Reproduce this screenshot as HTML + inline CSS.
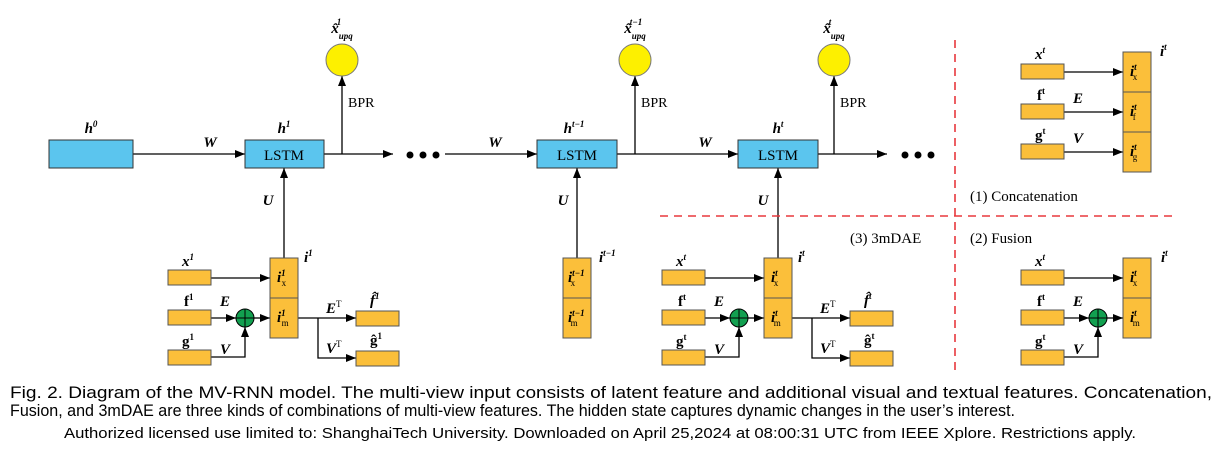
<!DOCTYPE html>
<html><head><meta charset="utf-8"><style>
body{margin:0;background:#fff}
svg{display:block}
text{font-family:"Liberation Serif",serif;fill:#000}
.it{font-style:italic;font-weight:bold}
.b{font-weight:bold}
.cap{font-family:"Liberation Sans",sans-serif;font-size:16.5px}
</style></head><body>
<svg width="1221" height="458" viewBox="0 0 1221 458" xmlns="http://www.w3.org/2000/svg">
<defs>
<marker id="a" markerWidth="10" markerHeight="8" refX="10" refY="4" orient="auto" markerUnits="userSpaceOnUse"><path d="M0,0L10,4L0,8z" fill="#000"/></marker>
</defs>
<g stroke="#000" stroke-width="1.3" fill="none">
<line x1="133" y1="154" x2="245" y2="154" marker-end="url(#a)"/>
<line x1="324" y1="154" x2="393" y2="154" marker-end="url(#a)"/>
<line x1="445" y1="154" x2="537" y2="154" marker-end="url(#a)"/>
<line x1="617" y1="154" x2="738" y2="154" marker-end="url(#a)"/>
<line x1="818" y1="154" x2="887" y2="154" marker-end="url(#a)"/>
<line x1="342" y1="154" x2="342" y2="76" marker-end="url(#a)"/>
<line x1="635" y1="154" x2="635" y2="76" marker-end="url(#a)"/>
<line x1="834" y1="154" x2="834" y2="76" marker-end="url(#a)"/>
<line x1="284" y1="258" x2="284" y2="168" marker-end="url(#a)"/>
<line x1="577" y1="258" x2="577" y2="168" marker-end="url(#a)"/>
<line x1="778" y1="258" x2="778" y2="168" marker-end="url(#a)"/>
</g>
<g fill="#000"><circle cx="410" cy="155" r="3.5"/><circle cx="423" cy="155" r="3.5"/><circle cx="436" cy="155" r="3.5"/>
<circle cx="905" cy="155" r="3.5"/><circle cx="918" cy="155" r="3.5"/><circle cx="931" cy="155" r="3.5"/></g>
<g stroke="#333" stroke-width="1" fill="#5bc5ee">
<rect x="49" y="140" width="84" height="28"/>
<rect x="245" y="140" width="79" height="28"/>
<rect x="537" y="140" width="80" height="28"/>
<rect x="738" y="140" width="80" height="28"/>
</g>
<g font-size="15" text-anchor="middle"><text x="284" y="160">LSTM</text><text x="577" y="160">LSTM</text><text x="778" y="160">LSTM</text></g>
<g stroke="#777" fill="#fdf000"><circle cx="342" cy="60" r="16"/><circle cx="635" cy="60" r="16"/><circle cx="834" cy="60" r="16"/></g>
<g font-size="14"><text x="348" y="107">BPR</text><text x="641" y="107">BPR</text><text x="840" y="107">BPR</text></g>
<g font-size="15" class="it" text-anchor="middle">
<text x="342" y="33">x̂<tspan font-size="9" dy="6">upq</tspan><tspan font-size="9" dy="-14" dx="-16">1</tspan></text>
<text x="635" y="33">x̂<tspan font-size="9" dy="6">upq</tspan><tspan font-size="9" dy="-14" dx="-16">t−1</tspan></text>
<text x="834" y="33">x̂<tspan font-size="9" dy="6">upq</tspan><tspan font-size="9" dy="-14" dx="-16">t</tspan></text>
<text x="91" y="133">h<tspan font-size="9" dy="-6">0</tspan></text>
<text x="284" y="133">h<tspan font-size="9" dy="-6">1</tspan></text>
<text x="574" y="133">h<tspan font-size="9" dy="-6">t−1</tspan></text>
<text x="778" y="133">h<tspan font-size="9" dy="-6">t</tspan></text>
<text x="210" y="147">W</text><text x="495" y="147">W</text><text x="705" y="147">W</text>
<text x="268" y="205">U</text><text x="563" y="205">U</text><text x="763" y="205">U</text>
</g>
<g stroke="#e8383d" stroke-width="1.6" stroke-dasharray="8,6"><line x1="955" y1="40" x2="955" y2="372"/><line x1="660" y1="216" x2="1172" y2="216"/></g>
<g font-size="15"><text x="850" y="243">(3) 3mDAE</text><text x="970" y="243">(2) Fusion</text><text x="970" y="201">(1) Concatenation</text></g>

<g>
<g stroke="#000" stroke-width="1.3" fill="none">
<line x1="211" y1="278" x2="270" y2="278" marker-end="url(#a)"/>
<line x1="211" y1="318" x2="236" y2="318" marker-end="url(#a)"/>
<line x1="254" y1="318" x2="270" y2="318" marker-end="url(#a)"/>
<polyline points="211,357 245,357 245,327" marker-end="url(#a)"/>
<polyline points="298,318 356,318" marker-end="url(#a)"/>
<polyline points="318,318 318,358 356,358" marker-end="url(#a)"/>
</g>
<g stroke="#555" stroke-width="1" fill="#fbbf3a">
<rect x="168" y="270" width="43" height="15"/><rect x="168" y="310" width="43" height="15"/><rect x="168" y="350" width="43" height="15"/>
<rect x="270" y="258" width="28" height="40"/><rect x="270" y="298" width="28" height="40"/>
<rect x="356" y="311" width="43" height="15"/><rect x="356" y="351" width="43" height="15"/>
</g>
<circle cx="245" cy="318" r="9" fill="#12a050" stroke="#000"/>
<path d="M236,318H254M245,309V327" stroke="#000"/>
<g font-size="15" class="it">
<text x="182" y="266">x<tspan font-size="9" dy="-6">1</tspan></text>
<text x="184" y="306" font-style="normal">f<tspan font-size="9" dy="-6">1</tspan></text>
<text x="182" y="346" font-style="normal">g<tspan font-size="9" dy="-6">1</tspan></text>
<text x="220" y="306">E</text><text x="220" y="354">V</text>
<text x="304" y="262">i<tspan font-size="9" dy="-6">1</tspan></text>
<text x="277" y="282">i<tspan font-size="9" dy="-6">1</tspan><tspan font-size="9" font-style="normal" font-weight="normal" dy="10" dx="-4">x</tspan></text>
<text x="277" y="322">i<tspan font-size="9" dy="-6">1</tspan><tspan font-size="9" font-style="normal" font-weight="normal" dy="10" dx="-4">m</tspan></text>
<text x="326" y="313">E<tspan font-size="9" font-weight="normal" font-style="normal" dy="-6">T</tspan></text>
<text x="326" y="353">V<tspan font-size="9" font-weight="normal" font-style="normal" dy="-6">T</tspan></text>
<text x="370" y="305">f̂<tspan font-size="9" dy="-6">1</tspan></text>
<text x="370" y="345" font-style="normal">ĝ<tspan font-size="9" dy="-6">1</tspan></text>
</g>
</g>
<g transform="translate(494,0)">
<g stroke="#000" stroke-width="1.3" fill="none">
<line x1="211" y1="278" x2="270" y2="278" marker-end="url(#a)"/>
<line x1="211" y1="318" x2="236" y2="318" marker-end="url(#a)"/>
<line x1="254" y1="318" x2="270" y2="318" marker-end="url(#a)"/>
<polyline points="211,357 245,357 245,327" marker-end="url(#a)"/>
<polyline points="298,318 356,318" marker-end="url(#a)"/>
<polyline points="318,318 318,358 356,358" marker-end="url(#a)"/>
</g>
<g stroke="#555" stroke-width="1" fill="#fbbf3a">
<rect x="168" y="270" width="43" height="15"/><rect x="168" y="310" width="43" height="15"/><rect x="168" y="350" width="43" height="15"/>
<rect x="270" y="258" width="28" height="40"/><rect x="270" y="298" width="28" height="40"/>
<rect x="356" y="311" width="43" height="15"/><rect x="356" y="351" width="43" height="15"/>
</g>
<circle cx="245" cy="318" r="9" fill="#12a050" stroke="#000"/>
<path d="M236,318H254M245,309V327" stroke="#000"/>
<g font-size="15" class="it">
<text x="182" y="266">x<tspan font-size="9" dy="-6">t</tspan></text>
<text x="184" y="306" font-style="normal">f<tspan font-size="9" dy="-6">t</tspan></text>
<text x="182" y="346" font-style="normal">g<tspan font-size="9" dy="-6">t</tspan></text>
<text x="220" y="306">E</text><text x="220" y="354">V</text>
<text x="304" y="262">i<tspan font-size="9" dy="-6">t</tspan></text>
<text x="277" y="282">i<tspan font-size="9" dy="-6">t</tspan><tspan font-size="9" font-style="normal" font-weight="normal" dy="10" dx="-4">x</tspan></text>
<text x="277" y="322">i<tspan font-size="9" dy="-6">t</tspan><tspan font-size="9" font-style="normal" font-weight="normal" dy="10" dx="-4">m</tspan></text>
<text x="326" y="313">E<tspan font-size="9" font-weight="normal" font-style="normal" dy="-6">T</tspan></text>
<text x="326" y="353">V<tspan font-size="9" font-weight="normal" font-style="normal" dy="-6">T</tspan></text>
<text x="370" y="305">f̂<tspan font-size="9" dy="-6">t</tspan></text>
<text x="370" y="345" font-style="normal">ĝ<tspan font-size="9" dy="-6">t</tspan></text>
</g>
</g>
<g stroke="#555" stroke-width="1" fill="#fbbf3a"><rect x="563" y="258" width="28" height="40"/><rect x="563" y="298" width="28" height="40"/></g>
<g font-size="15" class="it">
<text x="599" y="262">i<tspan font-size="9" dy="-6">t−1</tspan></text>
<text x="568" y="282">i<tspan font-size="9" dy="-6">t−1</tspan><tspan font-size="9" font-style="normal" font-weight="normal" dy="10" dx="-14">x</tspan></text>
<text x="568" y="322">i<tspan font-size="9" dy="-6">t−1</tspan><tspan font-size="9" font-style="normal" font-weight="normal" dy="10" dx="-14">m</tspan></text>
</g>
<g transform="translate(853,0)">
<g stroke="#000" stroke-width="1.3" fill="none">
<line x1="211" y1="278" x2="270" y2="278" marker-end="url(#a)"/>
<line x1="211" y1="318" x2="236" y2="318" marker-end="url(#a)"/>
<line x1="254" y1="318" x2="270" y2="318" marker-end="url(#a)"/>
<polyline points="211,357 245,357 245,327" marker-end="url(#a)"/>
</g>
<g stroke="#555" stroke-width="1" fill="#fbbf3a">
<rect x="168" y="270" width="43" height="15"/><rect x="168" y="310" width="43" height="15"/><rect x="168" y="350" width="43" height="15"/>
<rect x="270" y="258" width="28" height="40"/><rect x="270" y="298" width="28" height="40"/>
</g>
<circle cx="245" cy="318" r="9" fill="#12a050" stroke="#000"/>
<path d="M236,318H254M245,309V327" stroke="#000"/>
<g font-size="15" class="it">
<text x="182" y="266">x<tspan font-size="9" dy="-6">t</tspan></text>
<text x="184" y="306" font-style="normal">f<tspan font-size="9" dy="-6">t</tspan></text>
<text x="182" y="346" font-style="normal">g<tspan font-size="9" dy="-6">t</tspan></text>
<text x="220" y="306">E</text><text x="220" y="354">V</text>
<text x="308" y="262">i<tspan font-size="9" dy="-6">t</tspan></text>
<text x="277" y="282">i<tspan font-size="9" dy="-6">t</tspan><tspan font-size="9" font-style="normal" font-weight="normal" dy="10" dx="-4">x</tspan></text>
<text x="277" y="322">i<tspan font-size="9" dy="-6">t</tspan><tspan font-size="9" font-style="normal" font-weight="normal" dy="10" dx="-4">m</tspan></text>
</g>
</g>
<g stroke="#000" stroke-width="1.3" fill="none">
<line x1="1064" y1="72" x2="1123" y2="72" marker-end="url(#a)"/>
<line x1="1064" y1="112" x2="1123" y2="112" marker-end="url(#a)"/>
<line x1="1064" y1="152" x2="1123" y2="152" marker-end="url(#a)"/>
</g>
<g stroke="#555" stroke-width="1" fill="#fbbf3a">
<rect x="1021" y="64" width="43" height="15"/><rect x="1021" y="104" width="43" height="15"/><rect x="1021" y="144" width="43" height="15"/>
<rect x="1123" y="52" width="28" height="40"/><rect x="1123" y="92" width="28" height="40"/><rect x="1123" y="132" width="28" height="40"/>
</g>
<g font-size="15" class="it">
<text x="1035" y="59">x<tspan font-size="9" dy="-6">t</tspan></text>
<text x="1037" y="100" font-style="normal">f<tspan font-size="9" dy="-6">t</tspan></text>
<text x="1035" y="140" font-style="normal">g<tspan font-size="9" dy="-6">t</tspan></text>
<text x="1073" y="103">E</text><text x="1073" y="143">V</text>
<text x="1160" y="56">i<tspan font-size="9" dy="-6">t</tspan></text>
<text x="1130" y="76">i<tspan font-size="9" dy="-6">t</tspan><tspan font-size="9" font-style="normal" font-weight="normal" dy="10" dx="-4">x</tspan></text>
<text x="1130" y="116">i<tspan font-size="9" dy="-6">t</tspan><tspan font-size="9" font-style="normal" font-weight="normal" dy="10" dx="-4">f</tspan></text>
<text x="1130" y="156">i<tspan font-size="9" dy="-6">t</tspan><tspan font-size="9" font-style="normal" font-weight="normal" dy="10" dx="-4">g</tspan></text>
</g>
<text class="cap" x="10" y="398" textLength="1202" lengthAdjust="spacingAndGlyphs">Fig. 2. Diagram of the MV-RNN model. The multi-view input consists of latent feature and additional visual and textual features. Concatenation,</text>
<text class="cap" x="10" y="416" textLength="1005" lengthAdjust="spacingAndGlyphs">Fusion, and 3mDAE are three kinds of combinations of multi-view features. The hidden state captures dynamic changes in the user’s interest.</text>
<text class="cap" x="64" y="438" style="font-size:15px" textLength="1072" lengthAdjust="spacingAndGlyphs">Authorized licensed use limited to: ShanghaiTech University. Downloaded on April 25,2024 at 08:00:31 UTC from IEEE Xplore.  Restrictions apply.</text>
</svg>
</body></html>
